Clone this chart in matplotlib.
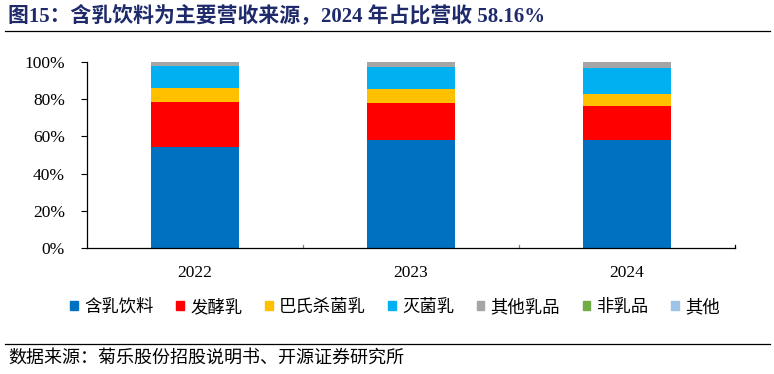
import matplotlib
matplotlib.use("Agg")
import matplotlib.pyplot as plt
from matplotlib.lines import Line2D
from matplotlib.patches import Rectangle
from matplotlib.ticker import FuncFormatter, FixedLocator

years = ["2022", "2023", "2024"]
series_names = ["含乳饮料", "发酵乳", "巴氏杀菌乳", "灭菌乳", "其他乳品", "非乳品", "其他"]
milk_drink = [54.5, 58.3, 58.16]
fermented = [24.1, 19.6, 17.9]
pasteurized = [7.1, 7.5, 6.8]
sterilized = [11.8, 11.8, 13.9]
other_dairy = [2.5, 2.8, 3.1]
non_dairy = [0.0, 0.0, 0.1]
others = [0.0, 0.0, 0.04]
colors = ["#0070C0", "#FF0000", "#FFC000", "#00B0F0", "#A5A5A5", "#70AD47", "#9DC3E6"]

series = [milk_drink, fermented, pasteurized, sterilized, other_dairy, non_dairy, others]

plt.rcParams['font.family'] = ['Liberation Serif', 'Noto Sans CJK SC', 'DejaVu Sans']
cjk = ['Noto Sans CJK SC', 'DejaVu Sans']
mixed = ['Liberation Serif', 'Noto Sans CJK SC', 'DejaVu Sans']

fig = plt.figure(figsize=(7.74, 3.74), dpi=100)
ax = fig.add_axes([87/774, 1-248.3/374, (735-87)/774, (248.3-61.7)/374])

x = list(range(len(years)))
bottom = [0.0]*len(years)
for vals, c, name in zip(series, colors, series_names):
    v = [a/100 for a in vals]
    ax.bar(x, v, width=0.41, bottom=bottom, color=c, label=name, linewidth=0)
    bottom = [b + a for b, a in zip(bottom, v)]

ax.set_xlim(-0.5, 2.5)
ax.set_ylim(0, 1)
ax.yaxis.set_major_locator(FixedLocator([0, 0.2, 0.4, 0.6, 0.8, 1.0]))
ax.yaxis.set_major_formatter(FuncFormatter(lambda v, p: f"{v*100:.0f}%"))
ax.set_xticks(x)
ax.set_xticklabels(years)
ax.tick_params(axis='x', length=0, pad=12, labelsize=12.5)
ax.tick_params(axis='y', direction='out', length=4, width=0.8, labelsize=12.5, pad=12)
for s in ['top', 'right']:
    ax.spines[s].set_visible(False)
ax.spines['left'].set_linewidth(0.9)
ax.spines['bottom'].set_linewidth(0.9)
# category boundary ticks
for b in [0.5, 1.5, 2.5]:
    ax.plot([b, b], [0, 0.016], color='#808080' if b < 2.5 else 'black', lw=0.9, clip_on=False)

# legend
handles = [Rectangle((0, 0), 1, 1, color=c) for c in colors]
leg = fig.legend(handles, series_names, loc='center', bbox_to_anchor=(395/774, 1-307/374),
                 ncol=7, frameon=False, prop={'family': cjk, 'size': 12.5},
                 handlelength=0.45, handleheight=0.45, handletextpad=0.35, columnspacing=1.3)

# title
fig.text(8/774, 1-16/374, "图15：含乳饮料为主要营收来源，2024 年占比营收 58.16%",
         family=mixed, fontsize=15, fontweight='bold', color='#1F2A6B', va='center', ha='left')
fig.add_artist(Line2D([5/774, 770/774], [1-31/374, 1-31/374], color='black', lw=0.9))
fig.add_artist(Line2D([5/774, 770/774], [1-344/374, 1-344/374], color='black', lw=0.9))
fig.text(8/774, 1-358/374, "数据来源：菊乐股份招股说明书、开源证券研究所",
         family=cjk, fontsize=13, color='black', va='center', ha='left')

fig.savefig("out.png", dpi=100)
